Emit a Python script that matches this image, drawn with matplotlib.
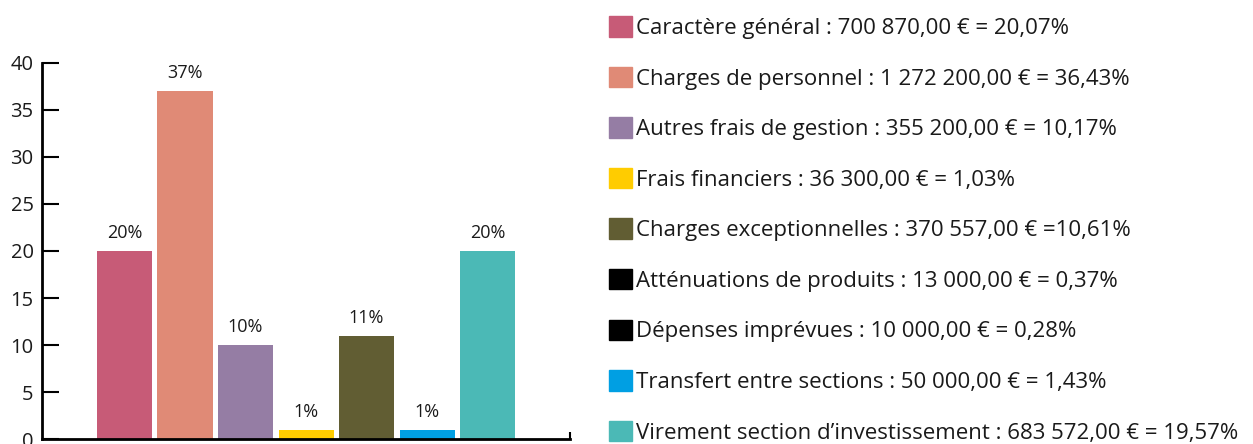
import matplotlib.pyplot as plt
from matplotlib.patches import Patch

plt.rcParams['font.family'] = ['Open Sans', 'DejaVu Sans']

# bars (rounded percentages shown on the chart)
bar_values = [20, 37, 10, 1, 11, 1, 20]
bar_colors = ['#C75B77', '#E08A76', '#957DA4', '#FFCC00', '#615D33', '#009FE3', '#4BB9B6']

# legend entries
legend_labels = [
    'Caractère général : 700 870,00 € = 20,07%',
    'Charges de personnel : 1 272 200,00 € = 36,43%',
    'Autres frais de gestion : 355 200,00 € = 10,17%',
    'Frais financiers : 36 300,00 € = 1,03%',
    'Charges exceptionnelles : 370 557,00 € =10,61%',
    'Atténuations de produits : 13 000,00 € = 0,37%',
    'Dépenses imprévues : 10 000,00 € = 0,28%',
    'Transfert entre sections : 50 000,00 € = 1,43%',
    'Virement section d’investissement : 683 572,00 € = 19,57%',
]
legend_colors = ['#C75B77', '#E08A76', '#957DA4', '#FFCC00', '#615D33',
                 '#000000', '#000000', '#009FE3', '#4BB9B6']

fig = plt.figure(figsize=(12.53, 4.44), dpi=100)
ax = fig.add_axes([0.0335, 0.0106, 0.4215, 0.8482])

x = range(len(bar_values))
ax.bar(x, bar_values, width=0.91, color=bar_colors)
for xi, v in zip(x, bar_values):
    ax.text(xi, v + 1.4, f'{v}%', ha='center', va='baseline', fontsize=13, color='#1a1a1a')

ax.set_xlim(-1.364, len(bar_values) - 1 + 1.364)
ax.set_ylim(0, 40)
ax.set_yticks(range(0, 41, 5))
ax.tick_params(axis='y', direction='in', length=12, width=1.5, labelsize=14.5, pad=6,
               labelcolor='#1a1a1a')
ax.set_xticks([ax.get_xlim()[1]])
ax.set_xticklabels([])
ax.tick_params(axis='x', direction='in', length=5, width=1.5)
for s in ['top', 'right']:
    ax.spines[s].set_visible(False)
for s in ['left', 'bottom']:
    ax.spines[s].set_linewidth(2)

handles = [Patch(color=c) for c in legend_colors]
fig.legend(handles, legend_labels, loc='upper left', bbox_to_anchor=(0.4701, 1.0085),
           frameon=False, fontsize=16, handlelength=1.035, handleheight=1.035,
           handletextpad=0.2, labelspacing=1.25, labelcolor='#1a1a1a')

fig.savefig('out.png', dpi=100)
